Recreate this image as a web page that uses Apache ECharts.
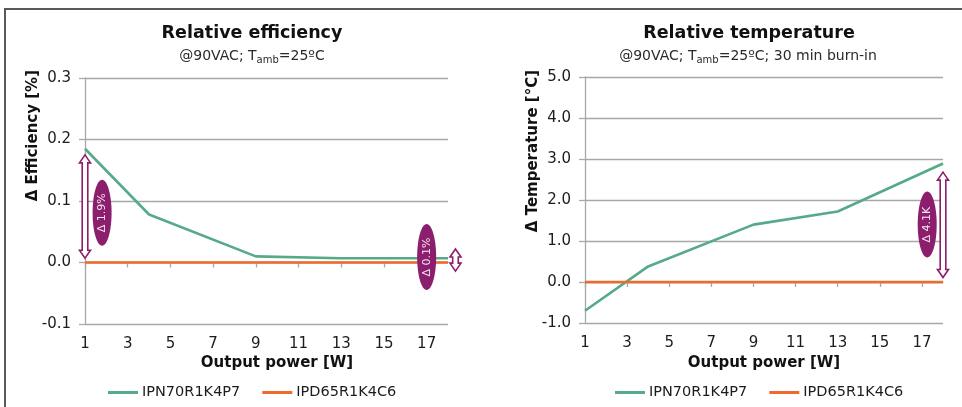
<!DOCTYPE html>
<html>
<head>
<meta charset="utf-8">
<script src="https://cdn.jsdelivr.net/npm/echarts@6/dist/echarts.min.js"></script>
<style>
  html, body { margin: 0; padding: 0; background: #ffffff; }
  #chart { width: 962px; height: 407px; }
</style>
</head>
<body>
<div id="chart"></div>
<script>
// Output power measurement points [W]
const powerPoints = [1, 4, 9, 13, 18];
// Tick labels on the power axis
const powerTicks = [1, 3, 5, 7, 9, 11, 13, 15, 17];

// Series names
const nameIPN = 'IPN70R1K4P7';
const nameIPD = 'IPD65R1K4C6';

// Relative efficiency [%] (reference part IPD65R1K4C6 = 0)
const effIPN = [0.185, 0.078, 0.010, 0.007, 0.007];
const effIPD = [0, 0, 0, 0, 0];

// Relative temperature [°C] (reference part IPD65R1K4C6 = 0)
const tempIPN = [-0.70, 0.38, 1.40, 1.72, 2.89];
const tempIPD = [0, 0, 0, 0, 0];

// Delta callouts: arrow at power x spanning [from, to]; badge at [labelX, labelY]
const effNotes = [
  { x: 1, from: 0.007, to: 0.175, labelX: 1.8, labelY: 0.081, text: 'Δ 1.9%' },
  { x: 18.35, from: -0.014, to: 0.022, labelX: 17.0, labelY: 0.009, text: 'Δ 0.1%' }
];
const tempNotes = [
  { x: 18.0, from: 0.11, to: 2.68, labelX: 17.25, labelY: 1.40, text: 'Δ 4.1K' }
];

const FONT = 'DejaVu Sans';
const GREEN = '#55aa8a';
const ORANGE = '#ef6a2c';
const PURPLE = '#8c1e6e';
const GRID_GRAY = '#a8a8a8';
const TEXT = '#1c1c1c';

const chart = echarts.init(document.getElementById('chart'), null, { renderer: 'canvas' });

function zip(xs, ys) { return xs.map((x, i) => [x, ys[i]]); }

function labelAxis(gridIndex) {
  return {
    gridIndex, type: 'value', min: 1, max: 18, position: 'bottom',
    axisLine: { show: false, onZero: false },
    axisTick: { show: false },
    splitLine: { show: false },
    axisLabel: { customValues: powerTicks, margin: 13, fontSize: 15, fontFamily: FONT, color: TEXT }
  };
}
function zeroAxis(gridIndex) {
  return {
    gridIndex, type: 'value', min: 1, max: 18, position: 'bottom',
    axisLine: { show: true, onZero: true, lineStyle: { color: GRID_GRAY, width: 1.3 } },
    axisTick: { show: true, customValues: powerTicks, length: 5, lineStyle: { color: GRID_GRAY, width: 1.3 } },
    axisLabel: { show: false },
    splitLine: { show: false }
  };
}
function valueAxis(gridIndex, min, max, interval) {
  return {
    gridIndex, type: 'value', min, max, interval,
    axisLine: { show: true, onZero: false, lineStyle: { color: GRID_GRAY, width: 1.3 } },
    axisTick: { show: true, length: 6, lineStyle: { color: GRID_GRAY, width: 1.3 } },
    splitLine: { show: true, lineStyle: { color: GRID_GRAY, width: 1.3 } },
    axisLabel: {
      margin: 14, fontSize: 15, fontFamily: FONT, color: TEXT,
      formatter: v => v.toFixed(1)
    }
  };
}

function lineSeries(name, xi, yi, data, color, z) {
  return {
    name, type: 'line', xAxisIndex: xi, yAxisIndex: yi, data,
    showSymbol: false, symbol: 'none', z,
    lineStyle: { color, width: 2.6 }, itemStyle: { color },
    emphasis: { disabled: true }, animation: false
  };
}

// Hollow double-headed arrow plus an ellipse badge with rotated text
function notesSeries(xi, yi, notes) {
  return {
    type: 'custom', xAxisIndex: xi, yAxisIndex: yi, clip: false, silent: true, z: 20,
    data: notes.map(n => [n.x, n.from, n.to, n.labelX, n.labelY]),
    renderItem: (params, api) => {
      const note = notes[params.dataIndex];
      const top = api.coord([api.value(0), api.value(2)]);
      const bot = api.coord([api.value(0), api.value(1)]);
      const badge = api.coord([api.value(3), api.value(4)]);
      const cx = top[0], y0 = top[1], y1 = bot[1];
      const hw = 5.5, sw = 2.8, hl = 8;
      const pts = [
        [cx, y0], [cx + hw, y0 + hl], [cx + sw, y0 + hl], [cx + sw, y1 - hl], [cx + hw, y1 - hl],
        [cx, y1], [cx - hw, y1 - hl], [cx - sw, y1 - hl], [cx - sw, y0 + hl], [cx - hw, y0 + hl]
      ];
      return {
        type: 'group',
        children: [
          { type: 'polygon', shape: { points: pts }, style: { fill: '#ffffff', stroke: PURPLE, lineWidth: 1.6 } },
          { type: 'ellipse', shape: { cx: badge[0], cy: badge[1], rx: 9.5, ry: 33 }, style: { fill: PURPLE } },
          {
            type: 'text', x: badge[0], y: badge[1], rotation: Math.PI / 2,
            style: { text: note.text, fill: '#f6e6f1', font: '11px "DejaVu Sans"', align: 'center', verticalAlign: 'middle' }
          }
        ]
      };
    }
  };
}

function legendFor(left) {
  return {
    left, top: 385, padding: 0, itemGap: 22, itemWidth: 30, itemHeight: 3, icon: 'rect',
    selectedMode: false,
    data: [{ name: nameIPN }, { name: nameIPD }],
    textStyle: { fontSize: 14.5, fontFamily: FONT, color: TEXT, padding: [0, 0, 0, -1] }
  };
}

const titleStyle = { font: 'bold 17.5px "DejaVu Sans"', fill: '#111', align: 'center', verticalAlign: 'middle' };
const subRich = { s: { fontSize: 10, fontFamily: FONT, fill: '#2a2a2a', padding: [9, 0, 0, 0] } };
const subStyle = (text) => ({
  text, font: '14px "DejaVu Sans"', fill: '#2a2a2a', align: 'center', verticalAlign: 'middle', rich: subRich
});
const axisNameStyle = (text) => ({ text, font: 'bold 15px "DejaVu Sans"', fill: '#111', align: 'right', verticalAlign: 'middle' });
const xNameStyle = (text) => ({ text, font: 'bold 15px "DejaVu Sans"', fill: '#111', align: 'center', verticalAlign: 'middle' });

const option = {
  animation: false,
  backgroundColor: '#ffffff',
  textStyle: { fontFamily: FONT },
  grid: [
    { left: 85, top: 78, width: 363, height: 246 },
    { left: 585, top: 77, width: 358, height: 246 }
  ],
  xAxis: [labelAxis(0), zeroAxis(0), labelAxis(1), zeroAxis(1)],
  yAxis: [valueAxis(0, -0.1, 0.3, 0.1), valueAxis(1, -1, 5, 1)],
  legend: [legendFor(108), legendFor(615)],
  series: [
    lineSeries(nameIPN, 0, 0, zip(powerPoints, effIPN), GREEN, 3),
    lineSeries(nameIPD, 0, 0, zip(powerPoints, effIPD), ORANGE, 4),
    lineSeries(nameIPN, 2, 1, zip(powerPoints, tempIPN), GREEN, 3),
    lineSeries(nameIPD, 2, 1, zip(powerPoints, tempIPD), ORANGE, 4),
    notesSeries(0, 0, effNotes),
    notesSeries(2, 1, tempNotes)
  ],
  graphic: [
    // panel frame
    { type: 'polyline', shape: { points: [[5, 407], [5, 9], [962, 9]] }, style: { stroke: '#5a5a5a', lineWidth: 2, fill: null }, silent: true },
    // chart titles
    { type: 'text', x: 252, y: 33, style: Object.assign({ text: 'Relative efficiency' }, titleStyle) },
    { type: 'text', x: 252, y: 56, style: subStyle('@90VAC; T{s|amb}=25ºC') },
    { type: 'text', x: 749, y: 33, style: Object.assign({ text: 'Relative temperature' }, titleStyle) },
    { type: 'text', x: 748, y: 56, style: subStyle('@90VAC; T{s|amb}=25ºC; 30 min burn-in') },
    // axis names
    { type: 'text', x: 33, y: 70, rotation: Math.PI / 2, style: axisNameStyle('Δ Efficiency [%]') },
    { type: 'text', x: 533, y: 70, rotation: Math.PI / 2, style: axisNameStyle('Δ Temperature [°C]') },
    { type: 'text', x: 277, y: 363, style: xNameStyle('Output power [W]') },
    { type: 'text', x: 764, y: 363, style: xNameStyle('Output power [W]') }
  ]
};

chart.setOption(option);
</script>
</body>
</html>
